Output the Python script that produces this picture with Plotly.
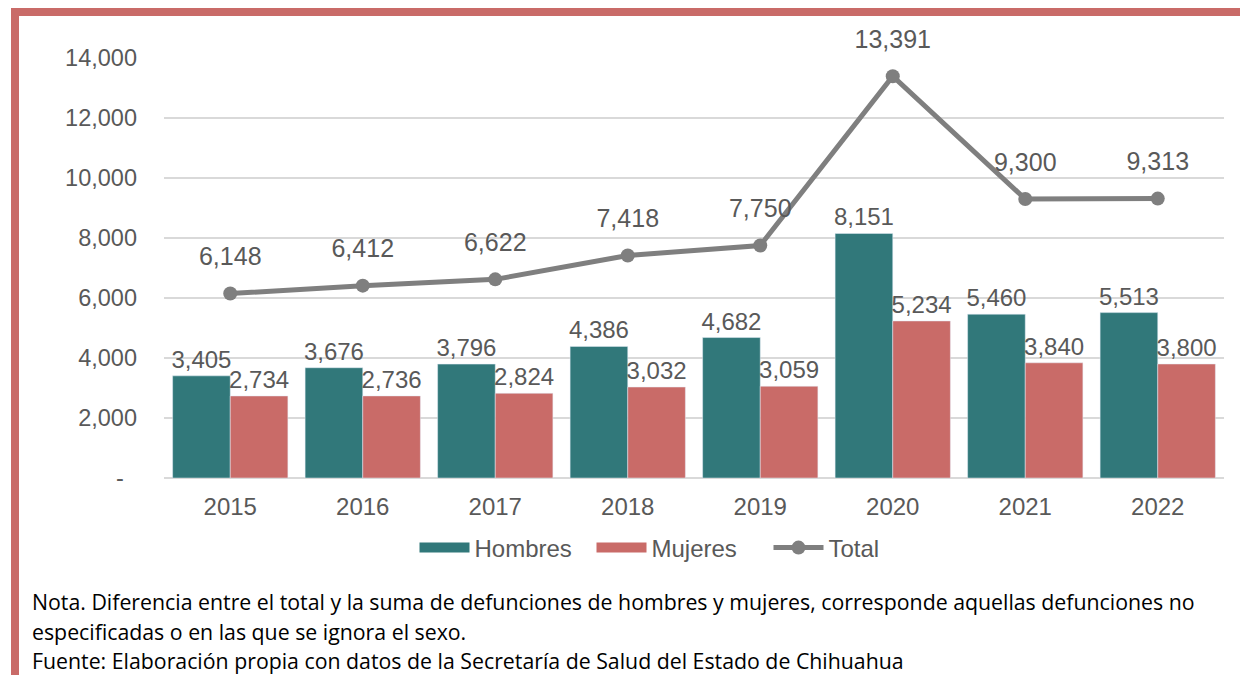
import plotly.graph_objects as go

# ── data ─────────────────────────────────────────────────────────────────────
years    = ['2015', '2016', '2017', '2018', '2019', '2020', '2021', '2022']
hombres  = [3405, 3676, 3796, 4386, 4682, 8151, 5460, 5513]
mujeres  = [2734, 2736, 2824, 3032, 3059, 5234, 3840, 3800]
total    = [6148, 6412, 6622, 7418, 7750, 13391, 9300, 9313]

y_ticks  = [0, 2000, 4000, 6000, 8000, 10000, 12000, 14000]
y_labels = ['-\u00a0\u00a0', '2,000', '4,000', '6,000', '8,000', '10,000', '12,000', '14,000']

nota_1 = ('Nota. Diferencia entre el total y la suma de defunciones de hombres y mujeres, '
          'corresponde aquellas defunciones no')
nota_2 = 'especificadas o en las que se ignora el sexo.'
fuente = 'Fuente: Elaboración propia con datos de la Secretaría de Salud del Estado de Chihuahua'

# ── colours ──────────────────────────────────────────────────────────────────
TEAL  = '#31787A'
ROSE  = '#C96B68'
GREY  = '#7F7F7F'
TEXT  = '#595959'
GRID  = '#D9D9D9'

# page body adds an 8px margin, so the figure is 8px smaller than the window
OFF = 8
W, H = 1248 - OFF, 675 - OFF
L, R, T, B = 156, 24, 50, 197
PW, PH = W - L - R, H - T - B


def px(sx):
    """screen x -> paper x"""
    return (sx - OFF - L) / PW


def py(sy):
    """screen y -> paper y"""
    return (H - B - (sy - OFF)) / PH


fig = go.Figure()
fig.add_trace(go.Bar(
    name='Hombres', x=years, y=hombres, marker_color=TEAL, showlegend=False,
    text=[f'{v:,}' for v in hombres], textposition='outside', constraintext='none',
    textfont=dict(size=24, color=TEXT), cliponaxis=False,
))
fig.add_trace(go.Bar(
    name='Mujeres', x=years, y=mujeres, marker_color=ROSE, showlegend=False,
    text=[f'{v:,}' for v in mujeres], textposition='outside', constraintext='none',
    textfont=dict(size=24, color=TEXT), cliponaxis=False,
))
fig.add_trace(go.Scatter(
    name='Total', x=years, y=total, mode='lines+markers', showlegend=False,
    line=dict(color=GREY, width=5), marker=dict(size=14, color=GREY),
    cliponaxis=False,
))
# labels of the total line, pushed further up by a large invisible marker
fig.add_trace(go.Scatter(
    x=years, y=total, mode='markers+text', showlegend=False, hoverinfo='skip',
    marker=dict(size=34, opacity=0),
    text=[f'{v:,}' for v in total], textposition='top center',
    textfont=dict(size=25, color=TEXT), cliponaxis=False,
))

# legend entries: wide swatches like the original
fig.add_trace(go.Scatter(name='Hombres', x=[None], y=[None], mode='lines',
                         line=dict(color=TEAL, width=14)))
fig.add_trace(go.Scatter(name='Mujeres', x=[None], y=[None], mode='lines',
                         line=dict(color=ROSE, width=14)))
fig.add_trace(go.Scatter(name='Total', x=[None], y=[None], mode='lines+markers',
                         line=dict(color=GREY, width=5), marker=dict(size=14, color=GREY)))

# frame in the document colour
shapes = [
    dict(type='rect', xref='paper', yref='paper', x0=px(11), x1=px(1248), y0=py(8), y1=py(16),
         fillcolor=ROSE, line_width=0, layer='above'),
    dict(type='rect', xref='paper', yref='paper', x0=px(11), x1=px(19), y0=py(8), y1=py(675),
         fillcolor=ROSE, line_width=0, layer='above'),
]

note_font = dict(family='Open Sans', size=21.3, color='#000000')
annotations = [
    dict(text=nota_1, xref='paper', yref='paper', x=px(30), y=py(601), xanchor='left',
         yanchor='middle', showarrow=False, font=note_font),
    dict(text=nota_2, xref='paper', yref='paper', x=px(30), y=py(631), xanchor='left',
         yanchor='middle', showarrow=False, font=note_font),
    dict(text=fuente, xref='paper', yref='paper', x=px(30), y=py(660), xanchor='left',
         yanchor='middle', showarrow=False, font=note_font),
]

fig.update_layout(
    width=W, height=H,
    margin=dict(l=L, r=R, t=T, b=B),
    paper_bgcolor='white', plot_bgcolor='white',
    font=dict(family='Liberation Sans, Arial', size=24, color=TEXT),
    barmode='group', bargap=0.13, bargroupgap=0,
    showlegend=True,
    legend=dict(orientation='h', x=px(680), y=py(548), xanchor='center', yanchor='middle',
                font=dict(size=24, color=TEXT), traceorder='normal',
                entrywidth=112, itemwidth=50),
    xaxis=dict(range=[-0.5, 7.5], showgrid=False, showline=False, ticks='',
               ticklabelstandoff=12, tickfont=dict(size=24, color=TEXT)),
    yaxis=dict(range=[0, 14000], tickvals=y_ticks, ticktext=y_labels,
               showgrid=True, gridcolor=GRID, gridwidth=2,
               zeroline=True, zerolinecolor=GRID, zerolinewidth=2,
               ticks='', ticklabelstandoff=26, tickfont=dict(size=23.5, color=TEXT)),
    shapes=shapes,
    annotations=annotations,
)

fig.write_html('out.html')
